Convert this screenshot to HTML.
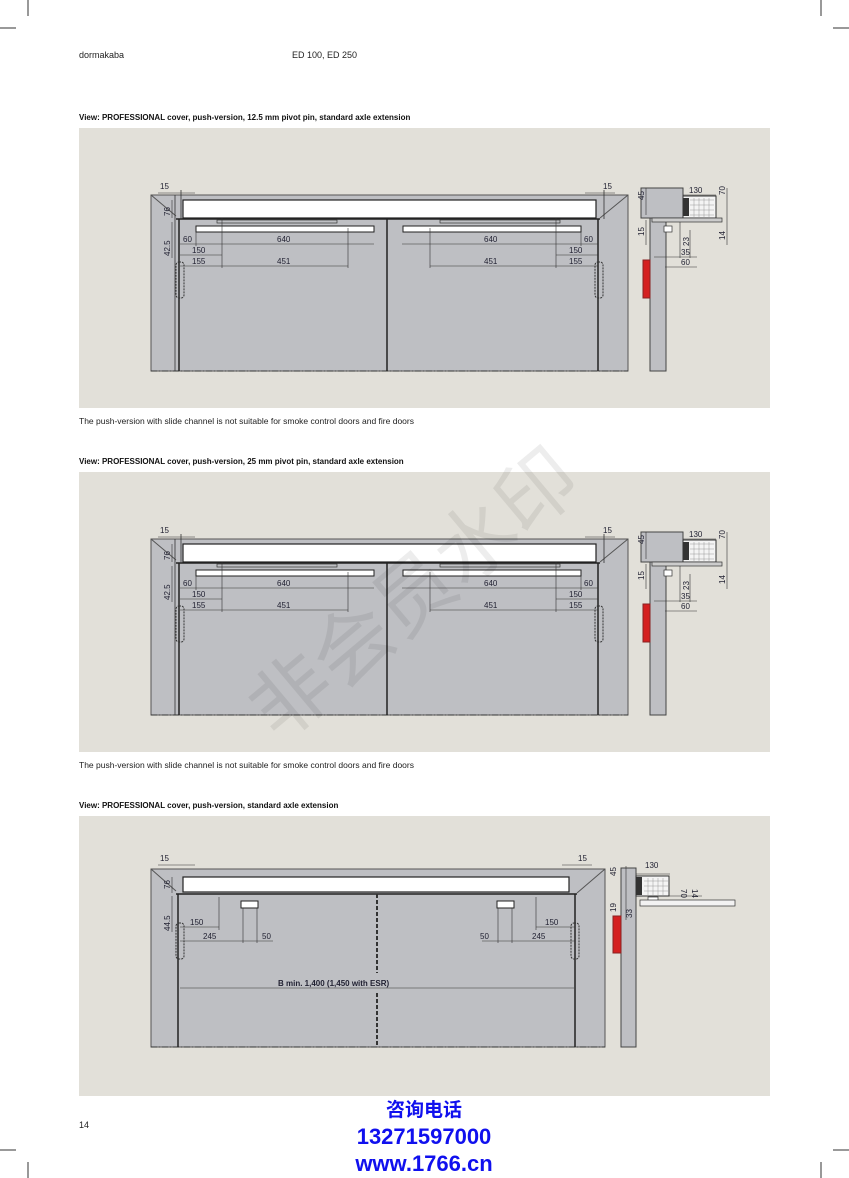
<!DOCTYPE html>
<html><head><meta charset="utf-8"><style>
html,body{margin:0;padding:0;background:#fff}
body{width:849px;height:1178px;position:relative;overflow:hidden;font-family:"Liberation Sans","Noto Sans CJK SC",sans-serif}
svg{position:absolute;left:0;top:0}
</style></head><body>
<svg width="849" height="1178" viewBox="0 0 849 1178" xmlns="http://www.w3.org/2000/svg" font-family="Liberation Sans, sans-serif">
<g stroke="#333" stroke-width="1">
<line x1="28" y1="0" x2="28" y2="16"/><line x1="0" y1="28" x2="16" y2="28"/>
<line x1="821" y1="0" x2="821" y2="16"/><line x1="833" y1="28" x2="849" y2="28"/>
<line x1="28" y1="1162" x2="28" y2="1178"/><line x1="0" y1="1150" x2="16" y2="1150"/>
<line x1="821" y1="1162" x2="821" y2="1178"/><line x1="833" y1="1150" x2="849" y2="1150"/>
</g>
<text x="79" y="58" font-size="9" fill="#222">dormakaba</text>
<text x="292" y="58" font-size="9" fill="#222">ED 100, ED 250</text>

<text x="79" y="120" font-size="8" font-weight="bold" fill="#111">View: PROFESSIONAL cover, push-version, 12.5 mm pivot pin, standard axle extension</text>
<text x="79" y="424" font-size="8.5" fill="#222">The push-version with slide channel is not suitable for smoke control doors and fire doors</text>
<text x="79" y="464" font-size="8" font-weight="bold" fill="#111">View: PROFESSIONAL cover, push-version, 25 mm pivot pin, standard axle extension</text>
<text x="79" y="768" font-size="8.5" fill="#222">The push-version with slide channel is not suitable for smoke control doors and fire doors</text>
<text x="79" y="808" font-size="8" font-weight="bold" fill="#111">View: PROFESSIONAL cover, push-version, standard axle extension</text>

<defs>
<g id="p1">
<rect x="79" y="128" width="691" height="280" fill="#e2e0d9"/>
<rect x="151" y="195" width="477" height="176" fill="#bebfc3" stroke="#555" stroke-width="1"/>
<line x1="151" y1="371" x2="628" y2="371" stroke="#333" stroke-dasharray="6,2,1,2"/>
<line x1="151" y1="195" x2="176" y2="216" stroke="#555"/>
<line x1="628" y1="195" x2="600" y2="218" stroke="#555"/>
<rect x="183" y="200" width="413" height="18" fill="#fff" stroke="#222" stroke-width="1.2"/>
<line x1="176" y1="219" x2="600" y2="219" stroke="#222" stroke-width="1.5"/>
<line x1="179" y1="219" x2="179" y2="371" stroke="#222" stroke-width="1.5"/>
<line x1="598" y1="219" x2="598" y2="371" stroke="#222" stroke-width="1.5"/>
<line x1="387" y1="219" x2="387" y2="371" stroke="#222" stroke-width="1.5"/>
<line x1="175" y1="195" x2="175" y2="371" stroke="#333" stroke-width="0.8"/>
<line x1="181" y1="190" x2="181" y2="219" stroke="#333" stroke-width="0.8"/>
<line x1="604" y1="190" x2="604" y2="219" stroke="#333" stroke-width="0.8"/>
<rect x="196" y="226" width="178" height="6" fill="#fff" stroke="#222"/>
<rect x="403" y="226" width="178" height="6" fill="#fff" stroke="#222"/>
<rect x="217" y="220" width="120" height="3" fill="none" stroke="#333" stroke-width="0.7"/>
<rect x="440" y="220" width="120" height="3" fill="none" stroke="#333" stroke-width="0.7"/>
<rect x="176" y="262" width="8" height="36" rx="3" fill="none" stroke="#333" stroke-dasharray="2,1"/>
<rect x="595" y="262" width="8" height="36" rx="3" fill="none" stroke="#333" stroke-dasharray="2,1"/>
<g stroke="#333" stroke-width="0.6">
<line x1="158" y1="193" x2="195" y2="193"/>
<line x1="585" y1="193" x2="615" y2="193"/>
<line x1="172" y1="200" x2="172" y2="218"/>
<line x1="172" y1="222" x2="172" y2="258"/>
<line x1="180" y1="244" x2="374" y2="244"/><line x1="402" y1="244" x2="598" y2="244"/>
<line x1="180" y1="255" x2="222" y2="255"/><line x1="556" y1="255" x2="598" y2="255"/>
<line x1="180" y1="266" x2="348" y2="266"/><line x1="430" y1="266" x2="598" y2="266"/>
<line x1="222" y1="218" x2="222" y2="268"/><line x1="556" y1="218" x2="556" y2="268"/>
<line x1="348" y1="228" x2="348" y2="268"/><line x1="430" y1="228" x2="430" y2="268"/>
<line x1="196" y1="232" x2="196" y2="246"/><line x1="581" y1="232" x2="581" y2="246"/>
</g>
<g font-size="8" fill="#223">
<text x="160" y="189">15</text><text x="603" y="189">15</text>
<text x="183" y="242">60</text><text x="277" y="242">640</text>
<text x="192" y="253">150</text><text x="192" y="264">155</text><text x="277" y="264">451</text>
<text x="484" y="242">640</text><text x="584" y="242">60</text>
<text x="569" y="253">150</text><text x="569" y="264">155</text><text x="484" y="264">451</text>
<text transform="translate(170,216) rotate(-90)">76</text>
<text transform="translate(170,256) rotate(-90)">42.5</text>
</g>
<rect x="650" y="218" width="16" height="153" fill="#bebfc3" stroke="#444"/>
<rect x="641" y="188" width="42" height="30" fill="#bebfc3" stroke="#444"/>
<rect x="683" y="196" width="33" height="22" fill="#f4f4f4" stroke="#333"/>
<g stroke="#999" stroke-width="0.5">
<line x1="690" y1="200" x2="714" y2="200"/><line x1="690" y1="205" x2="714" y2="205"/><line x1="690" y1="210" x2="714" y2="210"/><line x1="690" y1="215" x2="714" y2="215"/>
<line x1="694" y1="198" x2="694" y2="217"/><line x1="699" y1="198" x2="699" y2="217"/><line x1="704" y1="198" x2="704" y2="217"/><line x1="709" y1="198" x2="709" y2="217"/>
</g>
<rect x="683" y="198" width="6" height="18" fill="#333"/>
<rect x="652" y="218" width="70" height="4" fill="#ccc" stroke="#333" stroke-width="0.7"/>
<rect x="664" y="226" width="8" height="6" fill="#fff" stroke="#333" stroke-width="0.7"/>
<rect x="643" y="260" width="7" height="38" fill="#d42020" stroke="#822"/>
<g stroke="#333" stroke-width="0.6">
<line x1="646" y1="188" x2="646" y2="215"/><line x1="646" y1="220" x2="646" y2="245"/>
<line x1="683" y1="195" x2="716" y2="195"/>
<line x1="727" y1="188" x2="727" y2="245"/>
<line x1="680" y1="222" x2="680" y2="258"/><line x1="690" y1="230" x2="690" y2="258"/>
<line x1="654" y1="257" x2="697" y2="257"/><line x1="665" y1="267" x2="697" y2="267"/>
</g>
<g font-size="8" fill="#223">
<text x="689" y="193">130</text>
<text transform="translate(644,200) rotate(-90)">45</text>
<text transform="translate(644,236) rotate(-90)">15</text>
<text transform="translate(725,195) rotate(-90)">70</text>
<text transform="translate(725,240) rotate(-90)">14</text>
<text transform="translate(689,246) rotate(-90)">23</text>
<text x="681" y="255">35</text><text x="681" y="265">60</text>
</g>
</g>
</defs>
<use href="#p1"/>
<use href="#p1" transform="translate(0,344)"/>

<rect x="79" y="816" width="691" height="280" fill="#e2e0d9"/>
<rect x="151" y="869" width="454" height="178" fill="#bebfc3" stroke="#555"/>
<line x1="151" y1="1047" x2="605" y2="1047" stroke="#333" stroke-dasharray="6,2,1,2"/>
<line x1="151" y1="869" x2="176" y2="891" stroke="#555"/>
<line x1="605" y1="869" x2="577" y2="893" stroke="#555"/>
<rect x="183" y="877" width="386" height="15" fill="#fff" stroke="#222" stroke-width="1.2"/>
<line x1="176" y1="894" x2="577" y2="894" stroke="#222" stroke-width="1.5"/>
<line x1="178" y1="894" x2="178" y2="1047" stroke="#222" stroke-width="1.5"/>
<line x1="575" y1="894" x2="575" y2="1047" stroke="#222" stroke-width="1.5"/>
<line x1="377" y1="894" x2="377" y2="973" stroke="#333" stroke-width="2" stroke-dasharray="4,2"/>
<line x1="377" y1="993" x2="377" y2="1047" stroke="#333" stroke-width="2" stroke-dasharray="4,2"/>
<rect x="241" y="901" width="17" height="7" fill="#fff" stroke="#222"/>
<rect x="497" y="901" width="17" height="7" fill="#fff" stroke="#222"/>
<rect x="176" y="923" width="8" height="36" rx="3" fill="none" stroke="#333" stroke-dasharray="2,1"/>
<rect x="571" y="923" width="8" height="36" rx="3" fill="none" stroke="#333" stroke-dasharray="2,1"/>
<g stroke="#333" stroke-width="0.6">
<line x1="158" y1="865" x2="195" y2="865"/><line x1="562" y1="865" x2="592" y2="865"/>
<line x1="172" y1="877" x2="172" y2="893"/><line x1="172" y1="896" x2="172" y2="932"/>
<line x1="180" y1="927" x2="219" y2="927"/><line x1="219" y1="897" x2="219" y2="930"/>
<line x1="180" y1="941" x2="273" y2="941"/><line x1="243" y1="908" x2="243" y2="943"/><line x1="257" y1="908" x2="257" y2="943"/>
<line x1="536" y1="927" x2="575" y2="927"/><line x1="536" y1="897" x2="536" y2="930"/>
<line x1="482" y1="941" x2="575" y2="941"/><line x1="498" y1="908" x2="498" y2="943"/><line x1="512" y1="908" x2="512" y2="943"/>
<line x1="180" y1="988" x2="574" y2="988"/>
</g>
<g font-size="8" fill="#223">
<text x="160" y="861">15</text><text x="578" y="861">15</text>
<text x="190" y="925">150</text><text x="203" y="939">245</text><text x="262" y="939">50</text>
<text x="545" y="925">150</text><text x="532" y="939">245</text><text x="480" y="939">50</text>
<text transform="translate(170,889) rotate(-90)">76</text>
<text transform="translate(170,931) rotate(-90)">44.5</text>
<text x="278" y="986" font-weight="bold">B min. 1,400 (1,450 with ESR)</text>
</g>
<rect x="621" y="868" width="15" height="179" fill="#bebfc3" stroke="#444"/>
<rect x="636" y="876" width="33" height="20" fill="#f4f4f4" stroke="#333"/>
<rect x="636" y="877" width="6" height="18" fill="#333"/>
<g stroke="#999" stroke-width="0.5">
<line x1="644" y1="881" x2="668" y2="881"/><line x1="644" y1="886" x2="668" y2="886"/><line x1="644" y1="891" x2="668" y2="891"/>
<line x1="648" y1="878" x2="648" y2="895"/><line x1="653" y1="878" x2="653" y2="895"/><line x1="658" y1="878" x2="658" y2="895"/><line x1="663" y1="878" x2="663" y2="895"/>
</g>
<rect x="648" y="897" width="10" height="5" fill="#fff" stroke="#333" stroke-width="0.7"/>
<rect x="640" y="900" width="95" height="6" fill="#f2f2f2" stroke="#333" stroke-width="0.7"/>
<rect x="613" y="916" width="8" height="37" fill="#d42020" stroke="#822"/>
<g stroke="#333" stroke-width="0.6">
<line x1="636" y1="874" x2="670" y2="874"/><line x1="626" y1="866" x2="626" y2="920"/>
<line x1="636" y1="896" x2="702" y2="896"/>
</g>
<g font-size="8" fill="#223">
<text x="645" y="868">130</text>
<text transform="translate(616,876) rotate(-90)">45</text>
<text transform="translate(616,912) rotate(-90)">19</text>
<text transform="translate(632,918) rotate(-90)">33</text>
<text transform="translate(681,889) rotate(90)">70</text>
<text transform="translate(692,889) rotate(90)">14</text>
</g>

<text transform="translate(432,615) rotate(-40)" font-size="80" fill="#000" fill-opacity="0.07" text-anchor="middle" font-family="Noto Sans CJK SC, sans-serif">非会员水印</text>

<text x="79" y="1128" font-size="9" fill="#222">14</text>
<rect x="340" y="1096" width="170" height="82" fill="#fff"/>
<g fill="#1010ee" font-weight="bold" text-anchor="middle">
<text x="424" y="1116" font-size="19" font-family="Noto Sans CJK SC, sans-serif">咨询电话</text>
<text x="424" y="1144" font-size="22">13271597000</text>
<text x="424" y="1171" font-size="22">www.1766.cn</text>
</g>
</svg>
</body></html>
